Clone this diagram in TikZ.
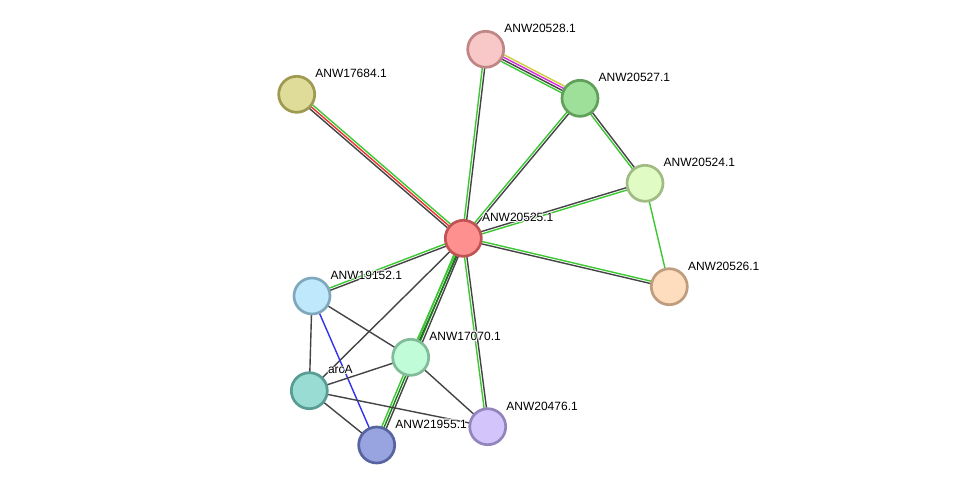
\documentclass[tikz,border=0pt]{standalone}
\usepackage{fontspec}
\setmainfont{Liberation Sans}
\usetikzlibrary{calc,backgrounds}
\definecolor{cgreen}{RGB}{60,200,50}
\definecolor{cdkgreen}{RGB}{20,130,20}
\definecolor{cgray}{RGB}{68,68,68}
\definecolor{cyellow}{RGB}{205,205,60}
\definecolor{cmagenta}{RGB}{220,40,220}
\definecolor{cred}{RGB}{235,50,50}
\definecolor{cblue}{RGB}{50,50,240}
\tikzset{
  prot/.style={circle, draw, line width=2.7pt, minimum size=36pt, inner sep=0pt},
  lbl/.style={anchor=west, font=\fontsize{12}{14}\selectfont, inner sep=0pt, text=black},
  halo/.style={lbl, text=white},
  edge/.style={line width=1.4pt},
}
\newcommand\medge[3]{%
  \foreach \c [count=\i] in {#3} {\xdef\nlines{\i}}%
  \foreach \c [count=\i] in {#3} {%
    \pgfmathsetmacro\off{((\nlines+1)/2-\i)*2.4}%
    \draw[edge,\c] ($(#1.center)!\off pt!90:(#2.center)$) -- ($(#2.center)!\off pt!-90:(#1.center)$);
  }%
}
\newcommand\plabel[3]{%
  \foreach \dx/\dy [count=\k] in {0.9/0,-0.9/0,0/0.9,0/-0.9,0.65/0.65,-0.65/0.65,0.65/-0.65,-0.65/-0.65} {%
    \node[halo] (#1h\k) at ($(#2.center)+(18.5,-20.8)+(\dx,\dy)$) {#3};
  }%
  \node[lbl] (#1) at ($(#2.center)+(18.5,-20.8)$) {#3};
}
\begin{document}
\begin{tikzpicture}[x=1pt,y=-1pt]
\useasboundingbox (0,0) rectangle (975,491);
% nodes
\node[prot, fill={rgb,255:red,248;green,200;blue,200}, draw={rgb,255:red,192;green,134;blue,134}] (n28) at (485.7,49.3) {};
\node[prot, fill={rgb,255:red,158;green,224;blue,154}, draw={rgb,255:red,96;green,160;blue,90}] (n27) at (580,98.3) {};
\node[prot, fill={rgb,255:red,222;green,220;blue,152}, draw={rgb,255:red,158;green,154;blue,82}] (n84) at (296.7,94.3) {};
\node[prot, fill={rgb,255:red,224;green,252;blue,196}, draw={rgb,255:red,160;green,188;blue,132}] (n24) at (645,183.3) {};
\node[prot, fill={rgb,255:red,255;green,144;blue,144}, draw={rgb,255:red,192;green,84;blue,84}] (n25) at (463.3,238.3) {};
\node[prot, fill={rgb,255:red,254;green,220;blue,190}, draw={rgb,255:red,190;green,156;blue,126}] (n26) at (669.3,286.7) {};
\node[prot, fill={rgb,255:red,192;green,232;blue,252}, draw={rgb,255:red,128;green,168;blue,188}] (n52) at (312,296) {};
\node[prot, fill={rgb,255:red,192;green,252;blue,216}, draw={rgb,255:red,128;green,188;blue,152}] (n70) at (410.7,357.3) {};
\node[prot, fill={rgb,255:red,152;green,220;blue,212}, draw={rgb,255:red,88;green,156;blue,148}] (arcA) at (309.3,390.7) {};
\node[prot, fill={rgb,255:red,212;green,196;blue,252}, draw={rgb,255:red,148;green,132;blue,188}] (n76) at (487.7,426.7) {};
\node[prot, fill={rgb,255:red,152;green,164;blue,224}, draw={rgb,255:red,88;green,100;blue,160}] (n55) at (376.7,445) {};
% edges
\begin{pgfonlayer}{background}
\fill[white] (0,0) rectangle (975,491);
\medge{n28}{n27}{cyellow,cmagenta,cgray,cgreen}
\medge{n84}{n25}{cgreen,cred,cgray}
\medge{n28}{n25}{cgray,cgreen}
\medge{n27}{n25}{cgray,cgreen}
\medge{n27}{n24}{cgray,cgreen}
\medge{n24}{n25}{cgreen,cgray}
\medge{n24}{n26}{cgreen}
\medge{n25}{n26}{cgreen,cgray}
\medge{n25}{n52}{cgray,cgreen}
\medge{n25}{arcA}{cgray}
\medge{n25}{n70}{cgray,cgreen}
\medge{n25}{n55}{cgray,cdkgreen,cgreen}
\medge{n25}{n76}{cgray,cgreen}
\medge{n52}{n70}{cgray}
\medge{n52}{arcA}{cgray}
\medge{n52}{n55}{cblue}
\medge{arcA}{n70}{cgray}
\medge{arcA}{n76}{cgray}
\medge{arcA}{n55}{cgray}
\medge{n70}{n76}{cgray}
\end{pgfonlayer}
% labels
\plabel{l28}{n28}{ANW20528.1}
\plabel{l27}{n27}{ANW20527.1}
\plabel{l84}{n84}{ANW17684.1}
\plabel{l24}{n24}{ANW20524.1}
\plabel{l25}{n25}{ANW20525.1}
\plabel{l26}{n26}{ANW20526.1}
\plabel{l52}{n52}{ANW19152.1}
\plabel{l70}{n70}{ANW17070.1}
\plabel{larcA}{arcA}{arcA}
\plabel{l76}{n76}{ANW20476.1}
\plabel{l55}{n55}{ANW21955.1}
\end{tikzpicture}
\end{document}
